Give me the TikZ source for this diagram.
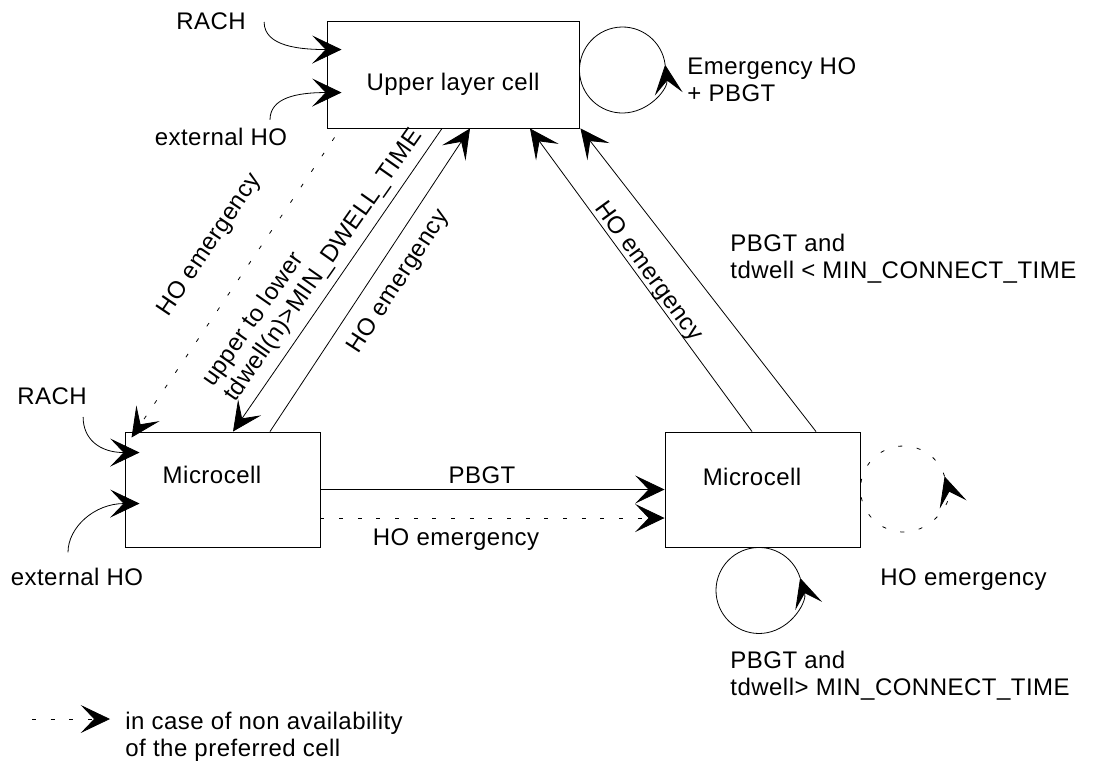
\documentclass[tikz,border=0pt]{standalone}
\usepackage{fontspec}
\setmainfont{Liberation Sans}[LetterSpace=2]
\usetikzlibrary{arrows.meta,calc}

\begin{document}
\begin{tikzpicture}[x=0.75pt,y=0.75pt,yscale=-1,xscale=1,
    line width=0.6pt,
    cell/.style={draw, line width=0.7pt, inner sep=0pt},
    lbl/.style={inner sep=0pt, font=\fontsize{18}{20}\selectfont},
    flow/.style={-{Stealth[length=22pt,width=21pt,inset=10pt]}},
    sparse/.style={dash pattern=on 3pt off 11pt}]
    	\useasboundingbox (0,0) rectangle (1095,769);
\node[cell, minimum width=189pt, minimum height=80.25pt] (upper) at (453,74.5) {};
\node[cell, minimum width=146.25pt, minimum height=86.25pt] (micro1) at (222.5,489.5) {};
\node[cell, minimum width=146.25pt, minimum height=86.25pt] (micro2) at (762.5,489.5) {};

\node[lbl] (uppername) at ($(upper)+(0,9.5)$) {Upper layer cell};
\node[lbl] (micro1name) at ($(micro1)+(-10.5,-14.5)$) {Microcell};
\node[lbl] (micro2name) at ($(micro2)+(-10.5,-12.5)$) {Microcell};

\node[lbl] (rachu) at (211,21) {RACH};
\node[lbl] (extu) at (221,137) {external HO};
\node[lbl] (rachl) at (52,396) {RACH};
\node[lbl] (extl) at (77,577) {external HO};

\draw[flow] ($(rachu.east)+(18,1)$) .. controls +(0,25) and +(-40,0) .. ($(upper.north west)+(15,29)$);
\draw[flow] ($(extu.north)+(49,-8)$) .. controls +(0,-22) and +(-45,0) .. ($(upper.north west)+(15,72)$);
\draw[flow] ($(rachl.east)+(-4,21)$) .. controls +(0,22) and +(-40,0) .. ($(micro1.north west)+(15,21)$);
\draw[flow] ($(extl.north)+(-9,-15.5)$) .. controls +(0,-25) and +(-45,0) .. ($(micro1.north west)+(15,72)$);

\draw[flow, sparse] ($(upper.south west)+(8,9)$) -- ($(micro1.north west)+(7,6)$);
\draw[flow] ($(upper.south)+(-11,0)$) -- ($(micro1.north)+(10.5,0)$);
\draw[flow] ($(micro1.north)+(47.5,0)$) -- ($(upper.south)+(17,0)$);
\draw[flow] ($(micro2.north)+(-10.5,0)$) -- ($(upper.south)+(77,0)$);
\draw[flow] ($(micro2.north)+(53.5,0)$) -- ($(upper.south east)+(1,0)$);

\draw[flow] (micro1.east) -- (micro2.west);
\draw[flow, sparse] ($(micro1.east)+(0,28.5)$) -- ($(micro2.west)+(0,28.5)$);

\coordinate (uloop) at ($(upper.east)+(43,-4.5)$);
\coordinate (bloop) at ($(micro2.south)+(-3.5,43)$);
\coordinate (rloop) at ($(micro2.east)+(43,-0.5)$);
\draw[flow] ($(uloop)+(-7:43)$) arc[start angle=-7, end angle=-367, radius=43];
\draw[flow] ($(bloop)+(-17:43)$) arc[start angle=-17, end angle=-377, radius=43];
\draw[flow, sparse] ($(rloop)+(-17:43)$) arc[start angle=-17, end angle=-377, radius=43];

\draw (210,245) node [lbl, rotate=56] {HO emergency};
\draw (313,258) node [lbl, rotate=55, align=left] {upper to lower\\tdwell(n)>MIN\_DWELL\_TIME};
\draw (399,282) node [lbl, rotate=57] {HO emergency};
\draw (648,272) node [lbl, rotate=-54] {HO emergency};
\draw (482,475) node [lbl] {PBGT};
\draw (456,540) node [lbl] {HO emergency};
\draw (687,80) node [lbl, anchor=west, align=left] {Emergency HO\\+ PBGT};
\draw (730,259) node [lbl, anchor=west, align=left] {PBGT and\\tdwell < MIN\_CONNECT\_TIME};
\draw (880,580) node [lbl, anchor=west] {HO emergency};
\draw (730,676) node [lbl, anchor=west, align=left] {PBGT and\\tdwell> MIN\_CONNECT\_TIME};

\coordinate (legstart) at (32,719);
\node[lbl, anchor=west, align=left] (legtext) at (125,737) {in case of non availability\\of the preferred cell};
\draw[flow, sparse] (legstart) -- ($(legtext.west)+(-15,-18)$);
	\end{tikzpicture}
\end{document}
